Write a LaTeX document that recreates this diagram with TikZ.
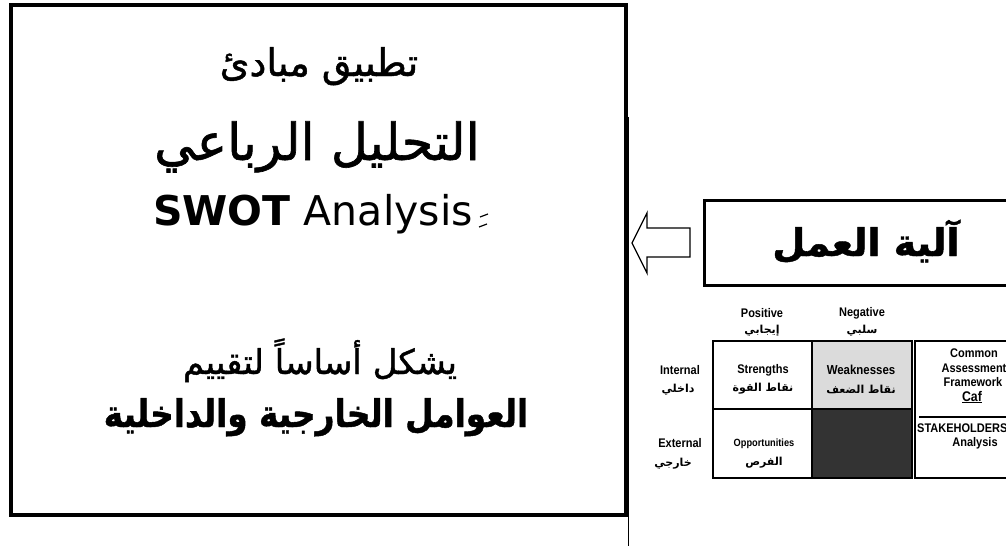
\documentclass[tikz,border=0pt]{standalone}
\usepackage{fontspec}
\setmainfont{DejaVu Sans}
\newfontfamily\arabicfont[Script=Arabic,FakeBold=1.2]{DejaVu Sans}
\newfontfamily\arabicsmall[Script=Arabic]{DejaVu Sans}
\newfontfamily\gridfont[FakeStretch=0.88]{Liberation Sans}
\TeXXeTstate=1
\newcommand{\ar}[1]{{\arabicfont\beginR #1\endR}}
\newcommand{\ars}[1]{{\arabicsmall\bfseries\beginR #1\endR}}
\begin{document}
\begin{tikzpicture}[x=1pt,y=-1pt,
  txt/.style={inner sep=0pt, anchor=base},
  gl/.style={inner sep=0pt, font=\gridfont\bfseries\fontsize{12.5}{13}\selectfont},
  ga/.style={inner sep=0pt, font=\fontsize{11}{12}\selectfont},
  frame/.style={draw, line width=4pt},
  cell/.style={draw, line width=1.8pt},
  blockarrow/.style={draw, line width=1.3pt, fill=white, line join=miter}
]
\useasboundingbox (0,0) rectangle (1006,546);
\fill[white] (0,0) rectangle (1006,546);

% main frame
\node[frame, anchor=north west, inner sep=0pt, minimum width=615pt, minimum height=510pt] (main) at (9,3) {};
\draw[line width=0.9pt] (628,117) coordinate (vt) -- (628,546) coordinate (vb);

\node[txt, font=\fontsize{38}{44}\selectfont] (t1) at (319,76) {\ar{تطبيق مبادئ}};
\node[txt, font=\fontsize{51}{60}\selectfont] (t2) at (317,160) {\ar{التحليل الرباعي}};
\node[txt, font=\fontsize{41}{48}\selectfont] (t3) at (313,225) {\textbf{SWOT} Analysis};
\draw[line width=1.2pt] (480,217) -- (488,214);
\draw[line width=1.2pt] (479,227) -- (487,224);
\node[txt, font=\fontsize{34}{40}\selectfont] (t4) at (320,374) {\ar{يشكل أساساً لتقييم}};
\node[txt, font=\fontsize{38}{46}\selectfont\bfseries] (t5) at (316,427) {\scalebox{0.86}[1]{\ar{العوامل الخارجية والداخلية}}};

% work box
\node[draw, line width=3pt, anchor=north west, inner sep=0pt, minimum width=330pt, minimum height=85pt] (work) at (703,199) {};
\node[txt, font=\fontsize{38}{44}\selectfont\bfseries] (worktxt) at (866,256) {\ar{آلية العمل}};
\draw[blockarrow] (632,243) -- (647,213) -- (647,228) -- (690,228) -- (690,257) -- (647,257) -- (647,273) -- cycle;

% SWOT grid
\draw[cell] (713,341) rectangle (812,409);
\draw[cell, fill=gray!28] (812,341) rectangle (912,409);
\draw[cell] (713,409) rectangle (812,478);
\draw[cell, fill=black!80] (812,409) rectangle (912,478);
\draw[cell] (1015,341) -- (915,341) -- (915,478) -- (1015,478);
\draw[line width=1.5pt] (919,417) -- (1015,417);

\node[gl] (pos) at (762,313) {Positive};
\node[ga] (posa) at (762,331) {\ars{إيجابي}};
\node[gl] (neg) at (862,313) {Negative};
\node[ga] (nega) at (862,331) {\ars{سلبي}};
\node[gl] (int) at (680,370) {Internal};
\node[ga] (inta) at (678,390) {\ars{داخلي}};
\node[gl] (ext) at (680,443) {External};
\node[ga] (exta) at (673,464) {\ars{خارجي}};
\node[gl] (str) at (763,370) {Strengths};
\node[ga] (stra) at (763,389) {\ars{نقاط القوة}};
\node[gl, font=\gridfont\bfseries\fontsize{13}{14}\selectfont] (wea) at (861,370) {Weaknesses};
\node[ga] (weaa) at (861,389) {\ars{نقاط الضعف}};
\node[gl, font=\gridfont\bfseries\fontsize{10.5}{12}\selectfont] (opp) at (764,444) {Opportunities};
\node[ga] (oppa) at (764,463) {\ars{الفرص}};
\node[gl] (caf1) at (974,353) {Common};
\node[gl] (caf2) at (974,368) {Assessment};
\node[gl] (caf3) at (973,382) {Framework};
\node[gl, font=\gridfont\bfseries\fontsize{14}{15}\selectfont] (caf4) at (972,397) {\underline{Caf}};
\node[gl, anchor=west] (stk) at (917,428) {STAKEHOLDERS};
\node[gl] (stk2) at (975,443) {Analysis};
\end{tikzpicture}
\end{document}
